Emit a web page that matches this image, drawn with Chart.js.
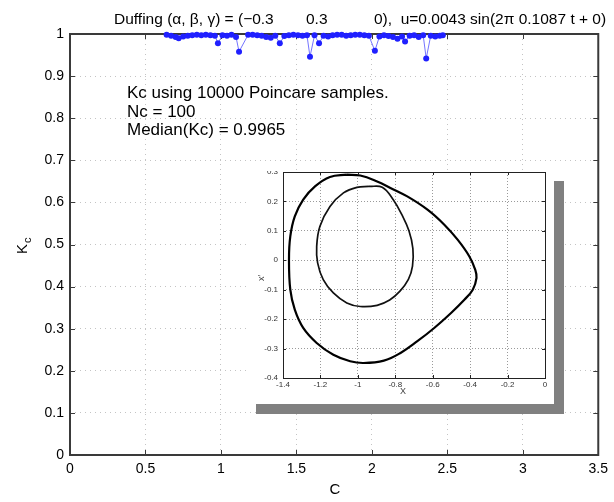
<!DOCTYPE html>
<html>
<head>
<meta charset="utf-8">
<script src="https://cdn.jsdelivr.net/npm/chart.js@4.4.0/dist/chart.umd.min.js"></script>
<style>
  html, body { margin: 0; padding: 0; background: #fff; }
  #wrap { position: relative; width: 614px; height: 502px; }
  #inset { position: absolute; left: 246px; top: 171px; width: 308px; height: 233px;
           background: #fff; overflow: hidden; box-shadow: 10px 10px 0 #808080; }
  #inset canvas { position: absolute; left: 0; top: -10px; }
</style>
</head>
<body>
<div id="wrap">
  <canvas id="main" width="614" height="502"></canvas>
  <div id="inset"><canvas id="poincare" width="308" height="243"></canvas></div>
</div>
<script>
// Kc versus C (main plot)
const cValues = [0.64, 0.67, 0.70, 0.72, 0.75, 0.78, 0.81, 0.84, 0.87, 0.90, 0.93, 0.96, 0.98, 1.01, 1.04, 1.07, 1.10, 1.12,
  1.18, 1.21, 1.24, 1.27, 1.30, 1.33, 1.36, 1.39, 1.42, 1.45, 1.48, 1.51, 1.54, 1.57, 1.59, 1.62, 1.65, 1.68, 1.71, 1.74,
  1.77, 1.80, 1.83, 1.86, 1.89, 1.92, 1.95, 1.98, 2.02, 2.05, 2.08, 2.11, 2.14, 2.17, 2.20, 2.22, 2.25, 2.28, 2.31, 2.34,
  2.36, 2.39, 2.42, 2.45, 2.47];
const kcValues = [0.998, 0.996, 0.993, 0.990, 0.994, 0.996, 0.997, 0.998, 0.997, 0.998, 0.997, 0.996, 0.978, 0.997, 0.996, 0.998, 0.993, 0.958,
  0.998, 0.998, 0.997, 0.996, 0.993, 0.991, 0.996, 0.978, 0.995, 0.997, 0.998, 0.997, 0.996, 0.997, 0.946, 0.997, 0.978, 0.996, 0.994, 0.997,
  0.998, 0.998, 0.996, 0.997, 0.998, 0.998, 0.997, 0.996, 0.960, 0.994, 0.997, 0.995, 0.993, 0.989, 0.994, 0.982, 0.996, 0.997, 0.993, 0.997,
  0.942, 0.996, 0.994, 0.996, 0.997];

// Poincare section (inset)
const outerX = [-1.059, -0.987, -0.897, -0.826, -0.736, -0.628, -0.538, -0.467, -0.404, -0.373, -0.366, -0.386, -0.431, -0.502, -0.592, -0.682,
  -0.772, -0.861, -0.969, -1.041, -1.131, -1.220, -1.292, -1.337, -1.361, -1.368, -1.361, -1.337, -1.292, -1.229, -1.149, -1.059];
const outerY = [0.291, 0.288, 0.268, 0.246, 0.217, 0.172, 0.121, 0.070, 0.013, -0.032, -0.060, -0.100, -0.134, -0.179, -0.230, -0.275,
  -0.315, -0.341, -0.349, -0.343, -0.321, -0.281, -0.230, -0.168, -0.100, 0.002, 0.081, 0.149, 0.206, 0.251, 0.283, 0.291];
const innerX = [-0.942, -0.870, -0.810, -0.765, -0.727, -0.706, -0.708, -0.730, -0.775, -0.830, -0.897, -0.987, -1.059, -1.131, -1.185,
  -1.215, -1.220, -1.203, -1.149, -1.077, -1.005, -0.942];
const innerY = [0.251, 0.248, 0.205, 0.155, 0.100, 0.040, -0.020, -0.065, -0.105, -0.135, -0.153, -0.157, -0.145, -0.111, -0.066,
  -0.009, 0.047, 0.115, 0.183, 0.229, 0.248, 0.251];

const titleParts = ['Duffing (\u03b1, \u03b2, \u03b3) = (\u22120.3', '0.3', '0),  u=0.0043 sin(2\u03c0 0.1087 t + 0)'];
const noteLines = ['Kc using 10000 Poincare samples.', 'Nc = 100', 'Median(Kc) = 0.9965'];

const FONT = '"Liberation Sans", Arial, Helvetica, sans-serif';
const fmt = v => String(+v.toFixed(2));

function line(ctx, x1, y1, x2, y2) {
  ctx.beginPath(); ctx.moveTo(x1, y1); ctx.lineTo(x2, y2); ctx.stroke();
}

// box, inward ticks and texts, matlab style
const mainDecor = {
  id: 'mainDecor',
  beforeDatasetsDraw(chart) {
    const { ctx, chartArea: a, scales } = chart;
    ctx.save();
    ctx.strokeStyle = '#3a3a3a';
    ctx.lineWidth = 1;
    scales.x.ticks.forEach(t => {
      const px = Math.round(scales.x.getPixelForValue(t.value)) + 0.5;
      line(ctx, px, a.bottom, px, a.bottom - 5);
      line(ctx, px, a.top, px, a.top + 5);
    });
    scales.y.ticks.forEach(t => {
      const py = Math.round(scales.y.getPixelForValue(t.value)) + 0.5;
      line(ctx, a.left, py, a.left + 5, py);
      line(ctx, a.right, py, a.right - 5, py);
    });
    ctx.lineWidth = 2;
    ctx.strokeRect(a.left, a.top, a.right - a.left, a.bottom - a.top);
    ctx.restore();
  },
  afterDraw(chart) {
    const { ctx } = chart;
    ctx.save();
    ctx.fillStyle = '#000';
    ctx.textBaseline = 'alphabetic';
    ctx.font = '15.5px ' + FONT;
    ctx.fillText(titleParts[0], 114, 24);
    ctx.fillText(titleParts[1], 306, 24);
    ctx.fillText(titleParts[2], 374, 24);

    ctx.font = '17px ' + FONT;
    noteLines.forEach((s, i) => ctx.fillText(s, 127, 98 + i * 18.5));

    ctx.font = '15px ' + FONT;
    ctx.textAlign = 'center';
    ctx.fillText('C', 335, 494);

    ctx.translate(27, 246);
    ctx.rotate(-Math.PI / 2);
    ctx.textAlign = 'left';
    ctx.font = '15px ' + FONT;
    ctx.fillText('K', -8, 0);
    ctx.font = '11px ' + FONT;
    ctx.fillText('c', 3, 4);
    ctx.restore();
  }
};

new Chart(document.getElementById('main'), {
  type: 'scatter',
  data: {
    datasets: [{
      data: cValues.map((c, i) => ({ x: c, y: kcValues[i] })),
      showLine: true,
      borderColor: 'rgba(70,70,255,0.75)',
      borderWidth: 1,
      pointRadius: 3,
      pointBackgroundColor: '#2020ff',
      pointBorderWidth: 0,
      clip: 8
    }]
  },
  options: {
    responsive: false,
    animation: false,
    layout: { padding: { top: 34, right: 11, left: 0, bottom: 0 } },
    plugins: { legend: { display: false }, tooltip: { enabled: false } },
    scales: {
      x: {
        type: 'linear', min: 0, max: 3.5,
        afterFit(s) { s.height = 47; },
        ticks: { stepSize: 0.5, padding: 6, color: '#000', font: { family: FONT, size: 14 }, callback: fmt, maxRotation: 0 },
        grid: { color: '#c4c4c4', lineWidth: 1, drawTicks: false },
        border: { display: false, dash: [1, 4] }
      },
      y: {
        min: 0, max: 1,
        afterFit(s) { s.width = 70; },
        ticks: { stepSize: 0.1, padding: 6, color: '#000', font: { family: FONT, size: 14 }, callback: fmt },
        grid: { color: '#c4c4c4', lineWidth: 1, drawTicks: false },
        border: { display: false, dash: [1, 4] }
      }
    }
  },
  plugins: [mainDecor]
});

const insetDecor = {
  id: 'insetDecor',
  afterDraw(chart) {
    const { ctx, chartArea: a, scales } = chart;
    ctx.save();
    ctx.strokeStyle = '#222';
    ctx.lineWidth = 1;
    scales.x.ticks.forEach(t => {
      const px = Math.round(scales.x.getPixelForValue(t.value)) + 0.5;
      line(ctx, px, a.bottom, px, a.bottom - 3);
      line(ctx, px, a.top, px, a.top + 3);
    });
    scales.y.ticks.forEach(t => {
      const py = Math.round(scales.y.getPixelForValue(t.value)) + 0.5;
      line(ctx, a.left, py, a.left + 3, py);
      line(ctx, a.right, py, a.right - 3, py);
    });
    ctx.strokeRect(Math.round(a.left) + 0.5, Math.round(a.top) + 0.5, Math.round(a.right - a.left), Math.round(a.bottom - a.top));
    ctx.fillStyle = '#444';
    ctx.font = '9px ' + FONT;
    ctx.textAlign = 'center';
    ctx.fillText('X', 157, 233);
    ctx.translate(18, 117);
    ctx.rotate(-Math.PI / 2);
    ctx.fillText('x\u2032', 0, 0);
    ctx.restore();
  }
};

new Chart(document.getElementById('poincare'), {
  type: 'scatter',
  data: {
    datasets: [
      { data: outerX.map((x, i) => ({ x, y: outerY[i] })), showLine: true, borderColor: '#000', borderWidth: 2.2, pointRadius: 0, tension: 0.4 },
      { data: innerX.map((x, i) => ({ x, y: innerY[i] })), showLine: true, borderColor: '#111', borderWidth: 1.7, pointRadius: 0, tension: 0.4 }
    ]
  },
  options: {
    responsive: false,
    animation: false,
    layout: { padding: { top: 11, right: 9, left: 0, bottom: 0 } },
    plugins: { legend: { display: false }, tooltip: { enabled: false } },
    scales: {
      x: {
        type: 'linear', min: -1.4, max: 0,
        afterFit(s) { s.height = 26; },
        ticks: { stepSize: 0.2, padding: 2, color: '#333', font: { family: FONT, size: 8 }, callback: fmt, maxRotation: 0 },
        grid: { color: '#9a9a9a', lineWidth: 1, drawTicks: false },
        border: { display: false, dash: [1, 2] }
      },
      y: {
        min: -0.4, max: 0.3,
        afterFit(s) { s.width = 37; },
        ticks: { stepSize: 0.1, padding: 5, color: '#333', font: { family: FONT, size: 8 }, callback: fmt },
        grid: { color: '#9a9a9a', lineWidth: 1, drawTicks: false },
        border: { display: false, dash: [1, 2] }
      }
    }
  },
  plugins: [insetDecor]
});
</script>
</body>
</html>
